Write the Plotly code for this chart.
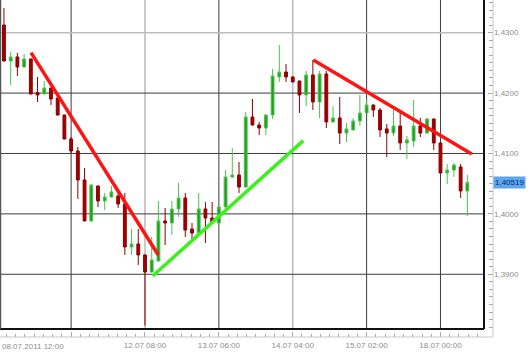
import plotly.graph_objects as go

# ---- data ----
candle_idx = list(range(1, 71))
open_ = [1.43127, 1.42531, 1.42598, 1.42432, 1.42565, 1.42007, 1.41985, 1.42084, 1.41919, 1.41637,
         1.41240, 1.41041, 1.40561, 1.39883, 1.40462, 1.40214, 1.40280, 1.40296, 1.40164, 1.39452,
         1.39502, 1.39320, 1.39038, 1.39220, 1.39883, 1.39849, 1.40081, 1.40263, 1.39750, 1.39684,
         1.40081, 1.39932, 1.39849, 1.40114, 1.40611, 1.40644, 1.40445, 1.41604, 1.41472, 1.41422,
         1.41637, 1.42267, 1.42349, 1.42267, 1.42200, 1.41969, 1.42300, 1.41853, 1.42316, 1.41522,
         1.41588, 1.41339, 1.41389, 1.41538, 1.41671, 1.41803, 1.41720, 1.41406, 1.41339, 1.41455,
         1.41174, 1.41207, 1.41455, 1.41339, 1.41571, 1.41174, 1.40677, 1.40727, 1.40777, 1.40379]
high = [1.43409, 1.42680, 1.42664, 1.42647, 1.42570, 1.42267, 1.42200, 1.42090, 1.41925, 1.41640,
        1.41273, 1.41108, 1.40760, 1.40485, 1.40468, 1.40346, 1.40462, 1.40346, 1.40346, 1.39750,
        1.39750, 1.39325, 1.39618, 1.40214, 1.40098, 1.40214, 1.40512, 1.40346, 1.39849, 1.40346,
        1.40197, 1.40197, 1.40147, 1.40727, 1.41091, 1.40859, 1.41687, 1.41902, 1.41522, 1.41645,
        1.42399, 1.42796, 1.42482, 1.42272, 1.42205, 1.42366, 1.42548, 1.42366, 1.42366, 1.41786,
        1.41935, 1.41505, 1.41588, 1.41969, 1.41902, 1.41808, 1.41753, 1.41488, 1.41720, 1.41671,
        1.41290, 1.41886, 1.41588, 1.41588, 1.41575, 1.41178, 1.40826, 1.40843, 1.40826, 1.40644]
low = [1.42525, 1.42134, 1.42283, 1.42425, 1.41980, 1.41853, 1.41980, 1.41803, 1.41630, 1.41235,
       1.41008, 1.40247, 1.39880, 1.39866, 1.40114, 1.40065, 1.40275, 1.40098, 1.39320, 1.39320,
       1.39154, 1.38150, 1.39030, 1.39215, 1.39485, 1.39651, 1.39949, 1.39618, 1.39568, 1.39680,
       1.39518, 1.39860, 1.39816, 1.40110, 1.40594, 1.40346, 1.40440, 1.41465, 1.41306, 1.41306,
       1.41571, 1.42184, 1.42184, 1.42180, 1.41671, 1.41786, 1.41720, 1.41588, 1.41422, 1.41515,
       1.41157, 1.41190, 1.41385, 1.41455, 1.41665, 1.41604, 1.41273, 1.40942, 1.41290, 1.41058,
       1.40909, 1.41108, 1.41273, 1.41335, 1.41058, 1.40670, 1.40495, 1.40611, 1.40263, 1.39965]
close = [1.42531, 1.42598, 1.42432, 1.42565, 1.41985, 1.41969, 1.42084, 1.41902, 1.41637, 1.41240,
         1.41041, 1.40561, 1.39883, 1.40479, 1.40214, 1.40280, 1.40363, 1.40164, 1.39452, 1.39502,
         1.39320, 1.39038, 1.39237, 1.39883, 1.39849, 1.40081, 1.40263, 1.39733, 1.39684, 1.40081,
         1.39932, 1.39866, 1.40114, 1.40611, 1.40644, 1.40445, 1.41604, 1.41472, 1.41422, 1.41637,
         1.42283, 1.42349, 1.42267, 1.42184, 1.41969, 1.42300, 1.41853, 1.42316, 1.41522, 1.41588,
         1.41339, 1.41406, 1.41538, 1.41671, 1.41803, 1.41720, 1.41389, 1.41339, 1.41455, 1.41174,
         1.41224, 1.41455, 1.41339, 1.41571, 1.41174, 1.40677, 1.40727, 1.40810, 1.40379, 1.40519]

red_trend1_x = [5.03, 23.98]
red_trend1_y = [1.42669, 1.39320]
green_trend_x = [23.15, 45.57]
green_trend_y = [1.38972, 1.41212]
red_trend2_x = [47.06, 70.65]
red_trend2_y = [1.42548, 1.40992]

x_tick_vals = [11, 22, 33, 44, 55, 66]
x_tick_text = ["", "12.07 08:00", "13.07 06:00", "14.07 04:00", "15.07 02:00", "18.07 00:00"]
first_label = "08.07.2011 12:00"
y_tick_vals = [1.39, 1.40, 1.41, 1.42, 1.43]
y_tick_text = ["1,3900", "1,4000", "1,4100", "1,4200", "1,4300"]
last_price = 1.40519
last_price_text = "1,40519"

# ---- figure ----
FONT = "Liberation Sans, Arial, sans-serif"
W, H = 530, 354
ML, MR, MT, MB = 0, 37, 0, 17
paper_w = W - ML - MR   # 493
paper_h = H - MT - MB   # 337
x_dom_end = 484 / paper_w
y_dom_start = (paper_h - 329) / paper_h

fig = go.Figure()

fig.add_trace(go.Candlestick(
    x=candle_idx, open=open_, high=high, low=low, close=close,
    increasing=dict(fillcolor="#1f9e1f", line=dict(color="#4cc24c", width=1)),
    decreasing=dict(fillcolor="#a30000", line=dict(color="#8a0000", width=1)),
    whiskerwidth=0, hoverinfo="skip", showlegend=False,
))

for tx, ty, col in [(red_trend1_x, red_trend1_y, "#ff1414"),
                    (green_trend_x, green_trend_y, "#3cf01e"),
                    (red_trend2_x, red_trend2_y, "#ff1414")]:
    fig.add_trace(go.Scatter(x=tx, y=ty, mode="lines",
                             line=dict(color=col, width=3.5),
                             hoverinfo="skip", showlegend=False))

shapes = []
light = {22, 44}
for v in x_tick_vals:
    shapes.append(dict(type="line", xref="x", yref="y domain", x0=v, x1=v, y0=0, y1=1,
                       line=dict(color="#bdbdbd" if v in light else "#3c3c3c",
                                 width=1.6 if v in light else 1),
                       layer="below"))
for v in y_tick_vals:
    is_light = abs(v - 1.43) < 1e-9
    shapes.append(dict(type="line", xref="x domain", yref="y", x0=0, x1=1, y0=v, y1=v,
                       line=dict(color="#bdbdbd" if is_light else "#3c3c3c",
                                 width=1.6 if is_light else 1),
                       layer="below"))
# frame
shapes.append(dict(type="line", xref="x domain", yref="y domain", x0=1, x1=1, y0=0, y1=1,
                   line=dict(color="#111111", width=2)))
shapes.append(dict(type="line", xref="x domain", yref="y domain", x0=0, x1=1, y0=0, y1=0,
                   line=dict(color="#111111", width=2)))
shapes.append(dict(type="line", xref="x domain", yref="y domain", x0=0.001, x1=0.001, y0=0, y1=1,
                   line=dict(color="#555555", width=1.5)))
# rulers
shapes.append(dict(type="line", xref="paper", yref="paper", x0=0, x1=1, y0=0, y1=0,
                   line=dict(color="#c8c8c8", width=1)))
shapes.append(dict(type="line", xref="paper", yref="paper", x0=1, x1=1, y0=0, y1=1,
                   line=dict(color="#c8c8c8", width=1)))

annotations = [
    dict(text=first_label, xref="paper", yref="paper", x=0, y=0, xanchor="left", yanchor="top",
         yshift=-3, showarrow=False, font=dict(family=FONT, size=8, color="#8c8c8c")),
    dict(text=last_price_text, xref="paper", yref="y", x=1, y=last_price, xanchor="left",
         yanchor="middle", showarrow=False, bgcolor="#5aa7ef", borderpad=1,
         font=dict(family=FONT, size=8, color="#102a6a")),
]

fig.update_layout(
    width=W, height=H,
    margin=dict(l=ML, r=MR, t=MT, b=MB, pad=0),
    paper_bgcolor="white", plot_bgcolor="white",
    boxgap=0.4,
    showlegend=False,
    hovermode=False,
    shapes=shapes,
    annotations=annotations,
    xaxis=dict(
        domain=[0, x_dom_end], anchor="free", position=0,
        range=[0.41, 72.48], type="linear",
        rangeslider=dict(visible=False),
        showgrid=False, zeroline=False, showline=False,
        tickmode="array", tickvals=x_tick_vals, ticktext=x_tick_text,
        ticks="inside", ticklen=5, tickcolor="#a8a8a8", tickwidth=1,
        ticklabelstandoff=2,
        minor=dict(dtick=11 / 8, tick0=0, ticks="inside", ticklen=3,
                   tickcolor="#a8a8a8", showgrid=False),
        tickfont=dict(family=FONT, size=8, color="#8c8c8c"),
        automargin=False, fixedrange=True,
    ),
    yaxis=dict(
        domain=[y_dom_start, 1], anchor="free", position=1, side="right",
        range=[1.38094, 1.43541],
        showgrid=False, zeroline=False, showline=False,
        tickmode="array", tickvals=y_tick_vals, ticktext=y_tick_text,
        ticks="inside", ticklen=5, tickcolor="#a8a8a8", tickwidth=1,
        minor=dict(dtick=0.00125, tick0=1.39, ticks="inside", ticklen=4,
                   tickcolor="#a8a8a8", showgrid=False),
        tickfont=dict(family=FONT, size=8, color="#8c8c8c"),
        automargin=False, fixedrange=True,
    ),
)

fig.write_html("out.html", config={"displayModeBar": False, "staticPlot": True})
